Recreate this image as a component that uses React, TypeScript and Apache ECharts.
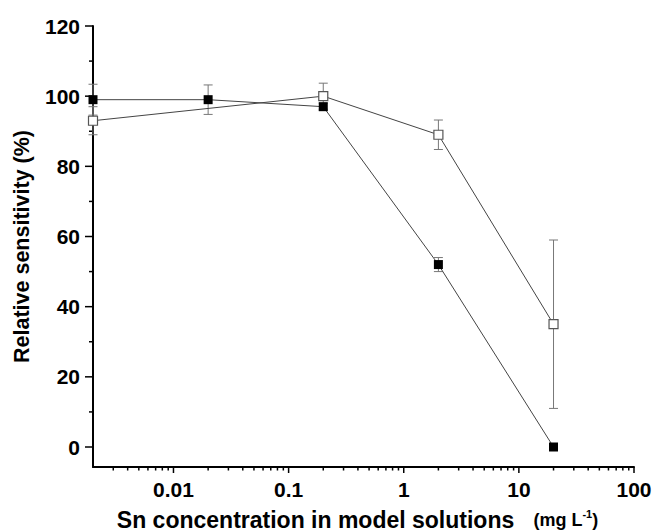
import React, { useEffect, useRef } from "react";
import * as echarts from "echarts";

// Data
const filledConcentrations = [0.002, 0.02, 0.2, 2, 20];
const filledValues = [99, 99, 97, 52, 0];
const filledErrors = [4.4, 4.2, 1, 2, 0.6];

const openConcentrations = [0.002, 0.2, 2, 20];
const openValues = [93, 100, 89, 35];
const openErrors = [4, 3.7, 4.2, 24];

// Axis tick values
const xLabelValues = [0.01, 0.1, 1, 10, 100];
const xMinorMultipliers = [2, 3, 4, 5, 6, 7, 8, 9];
const xDecades = [0.001, 0.01, 0.1, 1, 10];
const yMajorValues = [0, 20, 40, 60, 80, 100, 120];
const yMinorValues = [10, 30, 50, 70, 90, 110];

const X_MIN = 0.002;
const X_MAX = 100;
const Y_MIN = -5.7;
const Y_MAX = 120;

const FONT = "'Liberation Sans', Arial, sans-serif";

export default function App() {
  const ref = useRef<HTMLDivElement>(null);

  useEffect(() => {
    if (!ref.current) return;
    const chart = echarts.init(ref.current, undefined, { renderer: "svg" });

    const xMinor: number[] = [];
    xDecades.forEach((d) =>
      xMinorMultipliers.forEach((m) => {
        const v = +(d * m).toPrecision(3);
        if (v > X_MIN && v < X_MAX) xMinor.push(v);
      })
    );

    const filledPts = filledConcentrations.map((c, i) => [c, filledValues[i]]);
    const openPts = openConcentrations.map((c, i) => [c, openValues[i]]);
    const filledErr = filledConcentrations.map((c, i) => [c, filledValues[i], filledErrors[i]]);
    const openErr = openConcentrations.map((c, i) => [c, openValues[i], openErrors[i]]);

    // tick marks: [x, y, direction(0 = x-axis tick down, 1 = y-axis tick left), length]
    const tickData: number[][] = [
      ...xLabelValues.map((v) => [v, Y_MIN, 0, 6]),
      ...xMinor.map((v) => [v, Y_MIN, 0, 3.5]),
      ...yMajorValues.map((v) => [X_MIN, v, 1, 8]),
      ...yMinorValues.map((v) => [X_MIN, v, 1, 4]),
    ];

    const errRender = (params: any, api: any) => {
      const x = api.value(0);
      const y = api.value(1);
      const e = api.value(2);
      const hi = api.coord([x, y + e]);
      const lo = api.coord([x, y - e]);
      const w = 4.5;
      const style = { stroke: "#777", lineWidth: 1 };
      return {
        type: "group",
        children: [
          { type: "line", shape: { x1: hi[0], y1: hi[1], x2: lo[0], y2: lo[1] }, style },
          { type: "line", shape: { x1: hi[0] - w, y1: hi[1], x2: hi[0] + w, y2: hi[1] }, style },
          { type: "line", shape: { x1: lo[0] - w, y1: lo[1], x2: lo[0] + w, y2: lo[1] }, style },
        ],
      };
    };

    const tickRender = (params: any, api: any) => {
      const p = api.coord([api.value(0), api.value(1)]);
      const dir = api.value(2);
      const len = api.value(3);
      const shape =
        dir === 0
          ? { x1: p[0], y1: p[1], x2: p[0], y2: p[1] + len }
          : { x1: p[0] - len, y1: p[1], x2: p[0], y2: p[1] };
      return {
        type: "line",
        shape,
        style: { stroke: "#000", lineWidth: 1.5 },
      };
    };

    const option: any = {
      animation: false,
      backgroundColor: "#fff",
      grid: [
        { left: 93, right: 22, top: 26, bottom: 85, containLabel: false, outerBoundsMode: "none" },
        { left: 93, right: 22, top: 26, bottom: 65, containLabel: false, outerBoundsMode: "none" },
      ],
      xAxis: [
        {
          gridIndex: 0,
          type: "log",
          logBase: 10,
          min: X_MIN,
          max: X_MAX,
          show: false,
        },
        {
          gridIndex: 1,
          type: "log",
          logBase: 10,
          min: X_MIN,
          max: X_MAX,
          name: "{a|Sn concentration in model solutions   }{b|(mg L}{c|-1}{b|)}",
          nameLocation: "middle",
          nameGap: 41,
          nameMoveOverlap: false,
          nameTextStyle: {
            padding: [0, 12, 0, 0],
            rich: {
              a: { fontFamily: FONT, fontWeight: "bold", fontSize: 23, color: "#000" },
              b: { fontFamily: FONT, fontWeight: "bold", fontSize: 18, color: "#000" },
              c: {
                fontFamily: FONT,
                fontWeight: "bold",
                fontSize: 11,
                color: "#000",
                padding: [0, 0, 12, 0],
              },
            },
          },
          axisLine: { show: true, onZero: false, lineStyle: { color: "#000", width: 2 } },
          axisTick: { show: false },
          axisLabel: {
            show: true,
            customValues: xLabelValues,
            margin: 12,
            fontFamily: FONT,
            fontWeight: "bold",
            fontSize: 21,
            color: "#000",
            formatter: (v: number) => String(v),
          },
          splitLine: { show: false },
          minorTick: { show: false },
          minorSplitLine: { show: false },
        },
      ],
      yAxis: [
        {
          gridIndex: 0,
          type: "value",
          min: 0,
          max: Y_MAX,
          interval: 20,
          axisLine: { show: false, onZero: false },
          axisTick: { show: false },
          axisLabel: {
            show: true,
            margin: 13,
            fontFamily: FONT,
            fontWeight: "bold",
            fontSize: 21,
            color: "#000",
          },
          splitLine: { show: false },
        },
        {
          gridIndex: 1,
          type: "value",
          min: Y_MIN,
          max: Y_MAX,
          name: "Relative sensitivity (%)",
          nameLocation: "middle",
          nameGap: 60,
          nameMoveOverlap: false,
          nameTextStyle: { fontFamily: FONT, fontWeight: "bold", fontSize: 21.5, color: "#000" },
          axisLine: { show: true, onZero: false, lineStyle: { color: "#000", width: 2 } },
          axisTick: { show: false },
          axisLabel: { show: false },
          splitLine: { show: false },
        },
      ],
      series: [
        {
          type: "custom",
          name: "ticks",
          xAxisIndex: 1,
          yAxisIndex: 1,
          renderItem: tickRender,
          data: tickData,
          clip: false,
          silent: true,
          z: 1,
        },
        {
          type: "custom",
          name: "openErr",
          xAxisIndex: 0,
          yAxisIndex: 0,
          renderItem: errRender,
          data: openErr,
          z: 1,
          clip: false,
        },
        {
          type: "custom",
          name: "filledErr",
          xAxisIndex: 0,
          yAxisIndex: 0,
          renderItem: errRender,
          data: filledErr,
          z: 1,
          clip: false,
        },
        {
          type: "line",
          name: "open",
          xAxisIndex: 0,
          yAxisIndex: 0,
          data: openPts,
          symbol: "rect",
          symbolSize: 9,
          showAllSymbol: true,
          clip: false,
          lineStyle: { color: "#444", width: 1 },
          itemStyle: { color: "#fff", borderColor: "#555", borderWidth: 1.2 },
          z: 3,
        },
        {
          type: "line",
          name: "filled",
          xAxisIndex: 0,
          yAxisIndex: 0,
          data: filledPts,
          symbol: "rect",
          symbolSize: 9,
          showAllSymbol: true,
          clip: false,
          lineStyle: { color: "#444", width: 1 },
          itemStyle: { color: "#000", borderColor: "#000", borderWidth: 0 },
          z: 4,
        },
      ],
    };

    chart.setOption(option);
    return () => chart.dispose();
  }, []);

  return (
    <div
      ref={ref}
      style={{ position: "fixed", left: 0, top: 0, width: 656, height: 532, background: "#fff" }}
    />
  );
}
